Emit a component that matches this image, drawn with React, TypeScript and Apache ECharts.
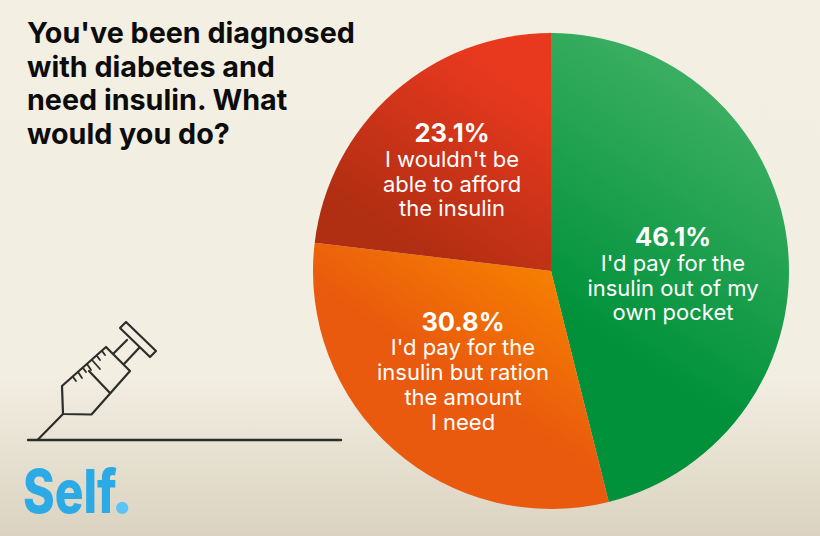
import React, { useEffect, useRef } from "react";
import * as echarts from "echarts";

const titleLines = ["You've been diagnosed", "with diabetes and", "need insulin. What", "would you do?"];
const percents = [46.1, 30.8, 23.1];
const categories = [
  "I'd pay for the\ninsulin out of my\nown pocket",
  "I'd pay for the\ninsulin but ration\nthe amount\nI need",
  "I wouldn't be\nable to afford\nthe insulin",
];
const FONT = "Inter, 'Noto Sans', sans-serif";

const grad = (x: number, y: number, x2: number, y2: number, a: string, b: string) =>
  new echarts.graphic.LinearGradient(x, y, x2, y2, [
    { offset: 0, color: a },
    { offset: 1, color: b },
  ]);

const sliceFills = [
  grad(0.6, 0.12, 0.4, 0.72, "#39ae60", "#00913a"),
  grad(0.78, 0.05, 0.45, 0.5, "#f68200", "#e9590e"),
  grad(0.85, 0.2, 0.4, 0.9, "#e8391f", "#b02e12"),
];
const labelAnchors = [
  [673, 274],
  [463, 371],
  [452, 170],
];

const ink = "#2d2d2a";
const strokeLine = (pts: number[][], w = 2.2) => ({
  type: "polyline",
  shape: { points: pts },
  style: { stroke: ink, lineWidth: w, fill: "none", lineJoin: "round", lineCap: "round" },
  silent: true,
});

export default function App() {
  const ref = useRef<HTMLDivElement>(null);
  useEffect(() => {
    document.body.style.margin = "0";
    const chart = echarts.init(ref.current!, undefined, { renderer: "svg" });
    const ticks: number[][][] = [
      [[73, 377], [76, 381]],
      [[78, 372], [82, 378]],
      [[83, 368], [86, 372]],
      [[87, 364], [91, 370]],
      [[92, 360], [100, 369]],
      [[97, 356], [100, 360]],
      [[102, 351], [105, 355]],
    ];
    chart.setOption({
      animation: false,
      backgroundColor: new echarts.graphic.LinearGradient(0, 0, 0, 1, [
        { offset: 0, color: "#f3efe3" },
        { offset: 0.7, color: "#f2eee2" },
        { offset: 1, color: "#dbd3c0" },
      ]),
      title: {
        text: titleLines.join("\n"),
        left: 22,
        top: 11,
        textStyle: { fontFamily: FONT, fontWeight: 700, fontSize: 28.7, lineHeight: 33.5, color: "#0c0c0c" },
      },
      series: [
        {
          type: "pie",
          center: [551, 271],
          radius: [0, 238],
          startAngle: 90,
          clockwise: true,
          silent: true,
          avoidLabelOverlap: false,
          data: categories.map((name, i) => ({
            name,
            value: percents[i],
            itemStyle: { color: sliceFills[i] },
          })),
          label: {
            show: true,
            position: "inside",
            formatter: (p: any) =>
              `{p|${percents[p.dataIndex].toFixed(1)}%}\n` +
              String(p.name).split("\n").map((l: string) => `{t|${l}}`).join("\n"),
            rich: {
              p: { fontFamily: FONT, fontWeight: 700, fontSize: 25.5, lineHeight: 27, color: "#fff", align: "center" },
              t: { fontFamily: FONT, fontWeight: 400, fontSize: 22, lineHeight: 24.7, color: "#fff", align: "center" },
            },
          },
          labelLine: { show: false },
          labelLayout: (p: any) => ({
            x: labelAnchors[p.dataIndex][0],
            y: labelAnchors[p.dataIndex][1],
            align: "center",
            verticalAlign: "middle",
          }),
        },
      ],
      graphic: [
        strokeLine([[28, 440], [341, 440]], 2.4),
        strokeLine([[38, 439.5], [63, 414]]),
        {
          type: "polygon",
          shape: { points: [[63, 414], [62, 386], [106, 347], [130, 371], [91.5, 414.5]] },
          style: { stroke: ink, lineWidth: 2.2, fill: "none", lineJoin: "round" },
        },
        strokeLine([[89, 371], [110, 393]]),
        strokeLine([[114, 353], [127, 340]]),
        strokeLine([[124, 364], [139, 348]]),
        {
          type: "polygon",
          shape: { points: [[120, 328], [126, 322], [156, 351], [150, 357]] },
          style: { stroke: ink, lineWidth: 2.2, fill: "none", lineJoin: "round" },
        },
        ...ticks.map((t) => strokeLine(t, 1.8)),
        {
          type: "text",
          x: 23,
          y: 461,
          scaleX: 0.8,
          style: {
            text: "Self",
            fontFamily: FONT,
            fontWeight: 800,
            fontSize: 60,
            fill: "#2caae6",
            textVerticalAlign: "top",
          },
        },
        {
          type: "text",
          x: 111,
          y: 461,
          style: {
            text: ".",
            fontFamily: FONT,
            fontWeight: 900,
            fontSize: 60,
            fill: "#5cc3f6",
            textVerticalAlign: "top",
          },
        },
      ],
    });
    return () => chart.dispose();
  }, []);
  return <div ref={ref} style={{ width: 820, height: 536 }} />;
}
